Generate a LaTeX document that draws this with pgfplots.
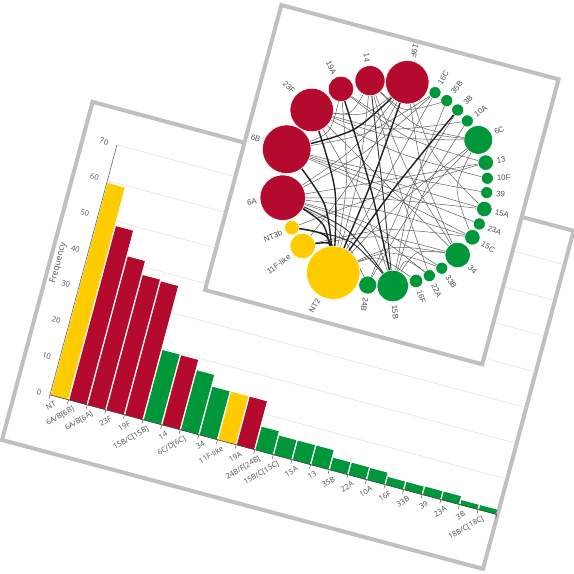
\documentclass[border=0pt]{standalone}
\usepackage{pgfplots}
\pgfplotsset{compat=1.18}
\usepackage{fontspec}
\setmainfont{Open Sans}
\newfontfamily\netfont{Liberation Sans}
\definecolor{cred}{RGB}{180,10,45}
\definecolor{cyel}{RGB}{255,204,0}
\definecolor{cgrn}{RGB}{0,150,58}
\definecolor{pframe}{RGB}{192,192,192}
\definecolor{txt}{RGB}{80,80,80}
\tikzset{
  te/.style={smooth, draw=black!62, line width=0.5pt, no marks},
  tk/.style={smooth, draw=black!88, line width=1.4pt, no marks},
  tm/.style={smooth, draw=black!80, line width=0.9pt, no marks},
  nR/.style={only marks, mark=*, color=cred, mark options={draw=white, fill=cred, line width=0.5pt}},
  nY/.style={only marks, mark=*, color=cyel, mark options={draw=white, fill=cyel, line width=0.5pt}},
  nG/.style={only marks, mark=*, color=cgrn, mark options={draw=white, fill=cgrn, line width=0.5pt}},
  lab/.style={font=\netfont\fontsize{7.8}{9}\selectfont, text=txt, inner sep=0.5pt},
  xl/.style={font=\fontsize{7.5}{8}\selectfont, text=txt, rotate=-15, yshift=-4.5pt, rotate=45, anchor=east},
  yl/.style={font=\fontsize{7.5}{8}\selectfont, text=txt, rotate=-15, xshift=-5.5pt, anchor=east},
  gl/.style={draw=black!12, line width=0.5pt, no marks},
  tmk/.style={draw=black!70, line width=0.5pt, no marks},
  bY/.style={fill=cyel, draw=none, no marks},
  bR/.style={fill=cred, draw=none, no marks},
  bG/.style={fill=cgrn, draw=none, no marks},
}
\begin{document}
\begin{tikzpicture}
\path[use as bounding box] (0pt,0pt) rectangle (574pt,574pt);
% ---------------- panel 1 frame ----------------
\begin{scope}[shift={(2pt,134pt)}, rotate=-15]
\draw[pframe, line width=4pt, fill=white] (0pt,0pt) -- (498pt,0pt) -- (498pt,350pt) -- (0pt,350pt) -- cycle;
\end{scope}
% ---------------- bar chart ----------------
\begin{axis}[
  anchor=origin, at={(59.28pt,176.63pt)},
  x={(18.614pt,-4.987pt)}, y={(0.9568pt,3.5711pt)},
  xmin=-0.5, xmax=23.5, ymin=0, ymax=70,
  hide axis, clip=false,
]
% grid lines
\addplot[gl] coordinates {(-0.5,10) (23.5,10)};
\addplot[gl] coordinates {(-0.5,20) (23.5,20)};
\addplot[gl] coordinates {(-0.5,30) (23.5,30)};
\addplot[gl] coordinates {(-0.5,40) (23.5,40)};
\addplot[gl] coordinates {(-0.5,50) (23.5,50)};
\addplot[gl] coordinates {(-0.5,60) (23.5,60)};
\addplot[gl] coordinates {(-0.5,70) (23.5,70)};
% bars
\addplot[bY] coordinates {(-0.46,0) (0.46,0) (0.46,59.4) (-0.46,59.4)} -- cycle;
\addplot[bR] coordinates {(0.54,0) (1.46,0) (1.46,48.7) (0.54,48.7)} -- cycle;
\addplot[bR] coordinates {(1.54,0) (2.46,0) (2.46,41.6) (1.54,41.6)} -- cycle;
\addplot[bR] coordinates {(2.54,0) (3.46,0) (3.46,37.8) (2.54,37.8)} -- cycle;
\addplot[bR] coordinates {(3.54,0) (4.46,0) (4.46,37.4) (3.54,37.4)} -- cycle;
\addplot[bG] coordinates {(4.54,0) (5.46,0) (5.46,19.6) (4.54,19.6)} -- cycle;
\addplot[bR] coordinates {(5.54,0) (6.46,0) (6.46,19.5) (5.54,19.5)} -- cycle;
\addplot[bG] coordinates {(6.54,0) (7.46,0) (7.46,16.7) (6.54,16.7)} -- cycle;
\addplot[bG] coordinates {(7.54,0) (8.46,0) (8.46,13.5) (7.54,13.5)} -- cycle;
\addplot[bY] coordinates {(8.54,0) (9.46,0) (9.46,13.5) (8.54,13.5)} -- cycle;
\addplot[bR] coordinates {(9.54,0) (10.46,0) (10.46,13.5) (9.54,13.5)} -- cycle;
\addplot[bG] coordinates {(10.54,0) (11.46,0) (11.46,6.5) (10.54,6.5)} -- cycle;
\addplot[bG] coordinates {(11.54,0) (12.46,0) (12.46,5.4) (11.54,5.4)} -- cycle;
\addplot[bG] coordinates {(12.54,0) (13.46,0) (13.46,5.4) (12.54,5.4)} -- cycle;
\addplot[bG] coordinates {(13.54,0) (14.46,0) (14.46,5.4) (13.54,5.4)} -- cycle;
\addplot[bG] coordinates {(14.54,0) (15.46,0) (15.46,3.4) (14.54,3.4)} -- cycle;
\addplot[bG] coordinates {(15.54,0) (16.46,0) (16.46,3.4) (15.54,3.4)} -- cycle;
\addplot[bG] coordinates {(16.54,0) (17.46,0) (17.46,3.3) (16.54,3.3)} -- cycle;
\addplot[bG] coordinates {(17.54,0) (18.46,0) (18.46,2.2) (17.54,2.2)} -- cycle;
\addplot[bG] coordinates {(18.54,0) (19.46,0) (19.46,2.2) (18.54,2.2)} -- cycle;
\addplot[bG] coordinates {(19.54,0) (20.46,0) (20.46,2.3) (19.54,2.3)} -- cycle;
\addplot[bG] coordinates {(20.54,0) (21.46,0) (21.46,2.3) (20.54,2.3)} -- cycle;
\addplot[bG] coordinates {(21.54,0) (22.46,0) (22.46,1.3) (21.54,1.3)} -- cycle;
\addplot[bG] coordinates {(22.54,0) (23.46,0) (23.46,1.3) (22.54,1.3)} -- cycle;
% axis lines
\addplot[draw=black!75, line width=0.6pt, no marks] coordinates {(-0.5,0) (23.5,0)};
\addplot[draw=black!60, line width=0.6pt, no marks] coordinates {(-0.5,0) (-0.5,70)};
% tick marks
\addplot[tmk] coordinates {(-0.5,0) (-0.5,-1.08)};
\addplot[tmk] coordinates {(0.5,0) (0.5,-1.08)};
\addplot[tmk] coordinates {(1.5,0) (1.5,-1.08)};
\addplot[tmk] coordinates {(2.5,0) (2.5,-1.08)};
\addplot[tmk] coordinates {(3.5,0) (3.5,-1.08)};
\addplot[tmk] coordinates {(4.5,0) (4.5,-1.08)};
\addplot[tmk] coordinates {(5.5,0) (5.5,-1.08)};
\addplot[tmk] coordinates {(6.5,0) (6.5,-1.08)};
\addplot[tmk] coordinates {(7.5,0) (7.5,-1.08)};
\addplot[tmk] coordinates {(8.5,0) (8.5,-1.08)};
\addplot[tmk] coordinates {(9.5,0) (9.5,-1.08)};
\addplot[tmk] coordinates {(10.5,0) (10.5,-1.08)};
\addplot[tmk] coordinates {(11.5,0) (11.5,-1.08)};
\addplot[tmk] coordinates {(12.5,0) (12.5,-1.08)};
\addplot[tmk] coordinates {(13.5,0) (13.5,-1.08)};
\addplot[tmk] coordinates {(14.5,0) (14.5,-1.08)};
\addplot[tmk] coordinates {(15.5,0) (15.5,-1.08)};
\addplot[tmk] coordinates {(16.5,0) (16.5,-1.08)};
\addplot[tmk] coordinates {(17.5,0) (17.5,-1.08)};
\addplot[tmk] coordinates {(18.5,0) (18.5,-1.08)};
\addplot[tmk] coordinates {(19.5,0) (19.5,-1.08)};
\addplot[tmk] coordinates {(20.5,0) (20.5,-1.08)};
\addplot[tmk] coordinates {(21.5,0) (21.5,-1.08)};
\addplot[tmk] coordinates {(22.5,0) (22.5,-1.08)};
\addplot[tmk] coordinates {(23.5,0) (23.5,-1.08)};
% y tick labels
\node[yl] at (axis cs:-0.5,0) {0};
\node[yl] at (axis cs:-0.5,10) {10};
\node[yl] at (axis cs:-0.5,20) {20};
\node[yl] at (axis cs:-0.5,30) {30};
\node[yl] at (axis cs:-0.5,40) {40};
\node[yl] at (axis cs:-0.5,50) {50};
\node[yl] at (axis cs:-0.5,60) {60};
\node[yl] at (axis cs:-0.5,70) {70};
\node[font=\fontsize{8.5}{10}\selectfont, text=txt, rotate=-15, xshift=-26pt, rotate=90, anchor=center] at (axis cs:-0.5,35) {Frequency};
% x tick labels
\node[xl] at (axis cs:0,0) {NT};
\node[xl] at (axis cs:1,0) {6A/B[6B]};
\node[xl] at (axis cs:2,0) {6A/B[6A]};
\node[xl] at (axis cs:3,0) {23F};
\node[xl] at (axis cs:4,0) {19F};
\node[xl] at (axis cs:5,0) {15B/C[15B]};
\node[xl] at (axis cs:6,0) {14};
\node[xl] at (axis cs:7,0) {6C/D[6C]};
\node[xl] at (axis cs:8,0) {34};
\node[xl] at (axis cs:9,0) {11F-like};
\node[xl] at (axis cs:10,0) {19A};
\node[xl] at (axis cs:11,0) {24B/F[24B]};
\node[xl] at (axis cs:12,0) {15B/C[15C]};
\node[xl] at (axis cs:13,0) {15A};
\node[xl] at (axis cs:14,0) {13};
\node[xl] at (axis cs:15,0) {35B};
\node[xl] at (axis cs:16,0) {22A};
\node[xl] at (axis cs:17,0) {10A};
\node[xl] at (axis cs:18,0) {16F};
\node[xl] at (axis cs:19,0) {33B};
\node[xl] at (axis cs:20,0) {39};
\node[xl] at (axis cs:21,0) {23A};
\node[xl] at (axis cs:22,0) {3B};
\node[xl] at (axis cs:23,0) {18B/C[18C]};
\end{axis}
% ---------------- panel 2 frame ----------------
\begin{scope}[shift={(205pt,284pt)}, rotate=-15]
\draw[pframe, line width=4pt, fill=white] (0pt,0pt) -- (287pt,0pt) -- (287pt,295pt) -- (0pt,295pt) -- cycle;
\end{scope}
% ---------------- network ----------------
\begin{axis}[
  anchor=origin, at={(205pt,284pt)},
  x={(0.96593pt,-0.25882pt)}, y={(0.25882pt,0.96593pt)},
  xmin=0, xmax=287, ymin=0, ymax=295,
  hide axis, clip=false,
]
% thin edges
\addplot[te] coordinates {(56.5,201.5) (141.6,196.9) (225.1,215.7)};
\addplot[te] coordinates {(56.5,201.5) (135.4,203.1) (209.6,231.2)};
\addplot[te] coordinates {(56.5,201.5) (93.7,208.6) (105.2,244.9)};
\addplot[te] coordinates {(56.5,201.5) (108.2,211.8) (141.6,253.0)};
\addplot[te] coordinates {(56.5,201.5) (145.6,150.3) (235.0,99.2)};
\addplot[te] coordinates {(56.5,201.5) (123.7,131.6) (180.3,52.5)};
\addplot[te] coordinates {(79.3,229.4) (150.8,208.0) (225.1,215.7)};
\addplot[te] coordinates {(79.3,229.4) (77.7,184.6) (42.5,157.1)};
\addplot[te] coordinates {(79.3,229.4) (156.0,200.0) (238.2,195.7)};
\addplot[te] coordinates {(79.3,229.4) (108.5,141.7) (119.4,49.9)};
\addplot[te] coordinates {(105.2,244.9) (165.1,167.6) (235.0,99.2)};
\addplot[te] coordinates {(105.2,244.9) (161.1,214.2) (225.1,215.7)};
\addplot[te] coordinates {(105.2,244.9) (118.8,147.9) (119.4,49.9)};
\addplot[te] coordinates {(105.2,244.9) (156.3,156.7) (213.0,71.9)};
\addplot[te] coordinates {(141.6,253.0) (179.6,170.9) (235.0,99.2)};
\addplot[te] coordinates {(141.6,253.0) (185.2,191.4) (248.8,150.5)};
\addplot[te] coordinates {(141.6,253.0) (118.8,158.3) (83.0,67.8)};
\addplot[te] coordinates {(141.6,253.0) (106.1,174.9) (51.2,109.3)};
\addplot[te] coordinates {(42.5,157.1) (114.4,192.9) (171.1,250.2)};
\addplot[te] coordinates {(42.5,157.1) (145.5,153.0) (248.8,150.5)};
\addplot[te] coordinates {(42.5,157.1) (143.8,140.9) (244.6,120.1)};
\addplot[te] coordinates {(42.5,157.1) (145.2,146.8) (247.9,134.8)};
\addplot[te] coordinates {(51.2,109.3) (149.0,133.9) (248.8,150.5)};
\addplot[te] coordinates {(51.2,109.3) (147.3,121.8) (244.6,120.1)};
\addplot[te] coordinates {(51.2,109.3) (134.7,102.5) (213.0,71.9)};
\addplot[te] coordinates {(51.2,109.3) (138.7,106.6) (223.1,82.3)};
\addplot[te] coordinates {(51.2,109.3) (144.8,152.0) (238.2,195.7)};
\addplot[te] coordinates {(51.2,109.3) (111.8,92.5) (155.9,46.9)};
\addplot[te] coordinates {(171.1,250.2) (145.2,150.0) (119.4,49.9)};
\addplot[te] coordinates {(184.5,245.5) (174.9,149.2) (180.3,52.5)};
\addplot[te] coordinates {(209.6,231.2) (185.0,143.5) (180.3,52.5)};
\addplot[te] coordinates {(225.1,215.7) (166.8,136.2) (119.4,49.9)};
\addplot[te] coordinates {(225.1,215.7) (216.9,164.3) (244.6,120.1)};
\addplot[te] coordinates {(225.1,215.7) (181.4,135.0) (155.9,46.9)};
\addplot[te] coordinates {(180.3,52.5) (195.1,90.7) (235.0,99.2)};
\addplot[te] coordinates {(180.3,52.5) (186.3,79.8) (213.0,71.9)};
\addplot[te] coordinates {(119.4,49.9) (170.8,89.6) (235.0,99.2)};
\addplot[te] coordinates {(119.4,49.9) (166.0,82.9) (223.1,82.3)};
\addplot[te] coordinates {(119.4,49.9) (157.4,75.3) (201.5,63.3)};
\addplot[te] coordinates {(83.0,67.8) (156.2,96.8) (235.0,99.2)};
\addplot[te] coordinates {(83.0,67.8) (160.0,105.2) (244.6,120.1)};
\addplot[te] coordinates {(197.5,239.3) (170.4,144.5) (155.9,46.9)};
\addplot[te] coordinates {(238.2,195.7) (151.4,141.4) (67.7,82.7)};
\addplot[te] coordinates {(171.1,250.2) (117.9,173.8) (51.2,109.3)};
\addplot[te] coordinates {(243.8,181.0) (149.1,183.0) (56.5,201.5)};
\addplot[te] coordinates {(246.9,167.0) (144.8,159.6) (42.5,157.1)};
\addplot[te] coordinates {(184.5,245.5) (144.9,226.2) (105.2,244.9)};
% thick edges
\addplot[tm] coordinates {(51.2,109.3) (121.6,94.7) (180.3,52.5)};
\addplot[tm] coordinates {(67.7,82.7) (128.2,84.1) (180.3,52.5)};
\addplot[tk] coordinates {(42.5,157.1) (102.6,194.0) (141.6,253.0)};
\addplot[tk] coordinates {(56.5,201.5) (99.4,130.6) (119.4,49.9)};
\addplot[tk] coordinates {(42.5,157.1) (93.8,112.8) (119.4,49.9)};
\addplot[tk] coordinates {(51.2,109.3) (97.2,93.7) (119.4,49.9)};
\addplot[tk] coordinates {(67.7,82.7) (103.8,83.0) (119.4,49.9)};
\addplot[tk] coordinates {(83.0,67.8) (110.0,77.1) (119.4,49.9)};
\addplot[tk] coordinates {(79.3,229.4) (132.8,142.8) (180.3,52.5)};
\addplot[tk] coordinates {(197.5,239.3) (155.8,145.7) (119.4,49.9)};
\addplot[tk] coordinates {(141.6,253.0) (133.4,151.2) (119.4,49.9)};
\addplot[tm] coordinates {(105.2,244.9) (143.2,149.0) (180.3,52.5)};
% nodes
\addplot[nR, mark size=21.7pt] coordinates {(141.6,253.0)};
\addplot[nR, mark size=15pt] coordinates {(105.2,244.9)};
\addplot[nR, mark size=12.7pt] coordinates {(79.3,229.4)};
\addplot[nR, mark size=21.7pt] coordinates {(56.5,201.5)};
\addplot[nR, mark size=24.3pt] coordinates {(42.5,157.1)};
\addplot[nR, mark size=22.7pt] coordinates {(51.2,109.3)};
\addplot[nY, mark size=7.3pt] coordinates {(67.7,82.7)};
\addplot[nY, mark size=12.7pt] coordinates {(83.0,67.8)};
\addplot[nY, mark size=26.7pt] coordinates {(119.4,49.9)};
\addplot[nG, mark size=9pt] coordinates {(155.9,46.9)};
\addplot[nG, mark size=15.7pt] coordinates {(180.3,52.5)};
\addplot[nG, mark size=6.7pt] coordinates {(201.5,63.3)};
\addplot[nG, mark size=6pt] coordinates {(213.0,71.9)};
\addplot[nG, mark size=6pt] coordinates {(223.1,82.3)};
\addplot[nG, mark size=12.7pt] coordinates {(235.0,99.2)};
\addplot[nG, mark size=7.7pt] coordinates {(244.6,120.1)};
\addplot[nG, mark size=6pt] coordinates {(247.9,134.8)};
\addplot[nG, mark size=7.7pt] coordinates {(248.8,150.5)};
\addplot[nG, mark size=6pt] coordinates {(246.9,167.0)};
\addplot[nG, mark size=6pt] coordinates {(243.8,181.0)};
\addplot[nG, mark size=7.7pt] coordinates {(238.2,195.7)};
\addplot[nG, mark size=14.3pt] coordinates {(225.1,215.7)};
\addplot[nG, mark size=6pt] coordinates {(209.6,231.2)};
\addplot[nG, mark size=6pt] coordinates {(197.5,239.3)};
\addplot[nG, mark size=6pt] coordinates {(184.5,245.5)};
\addplot[nG, mark size=6pt] coordinates {(171.1,250.2)};
% labels
\node[lab, rotate=-103.1, anchor=east] at (axis cs:140.8,277.7) {19F};
\node[lab, rotate=-82.3, anchor=east] at (axis cs:98.2,261.5) {14};
\node[lab, rotate=-65.4, anchor=east] at (axis cs:69.3,241.5) {19A};
\node[lab, rotate=-45.2, anchor=east] at (axis cs:35.2,213.9) {23F};
\node[lab, rotate=-19.0, anchor=east] at (axis cs:15.3,159.0) {6B};
\node[lab, rotate=8.5, anchor=east] at (axis cs:27.6,99.1) {6A};
\node[lab, rotate=22.0, anchor=east] at (axis cs:59.9,75.9) {NT3b};
\node[lab, rotate=36.0, anchor=east] at (axis cs:73.5,55.3) {11F-like};
\node[lab, rotate=60.7, anchor=east] at (axis cs:112.0,21.1) {NT2};
\node[lab, rotate=-99.0, anchor=west] at (axis cs:157.2,35.0) {24B};
\node[lab, rotate=-85.1, anchor=west] at (axis cs:186.7,34.9) {15B};
\node[lab, rotate=-71.9, anchor=west] at (axis cs:206.8,55.2) {16F};
\node[lab, rotate=-64.0, anchor=west] at (axis cs:218.9,65.1) {22A};
\node[lab, rotate=-55.9, anchor=west] at (axis cs:229.9,76.4) {33B};
\node[lab, rotate=-44.4, anchor=west] at (axis cs:248.7,91.5) {34};
\node[lab, rotate=-31.7, anchor=west] at (axis cs:254.9,117.0) {15C};
\node[lab, rotate=-23.4, anchor=west] at (axis cs:256.8,133.5) {23A};
\node[lab, rotate=-14.7, anchor=west] at (axis cs:259.5,150.6) {15A};
\node[lab, rotate=-5.5, anchor=west] at (axis cs:255.8,168.5) {39};
\node[lab, rotate=2.4, anchor=west] at (axis cs:252.4,183.7) {10F};
\node[lab, rotate=11.1, anchor=west] at (axis cs:247.8,200.4) {13};
\node[lab, rotate=24.4, anchor=west] at (axis cs:238.5,226.7) {6C};
\node[lab, rotate=36.5, anchor=west] at (axis cs:215.2,238.2) {10A};
\node[lab, rotate=44.5, anchor=west] at (axis cs:202.1,247.1) {3B};
\node[lab, rotate=52.5, anchor=west] at (axis cs:187.9,253.8) {35B};
\node[lab, rotate=60.4, anchor=west] at (axis cs:173.4,258.9) {16C};
\end{axis}
\end{tikzpicture}
\end{document}
